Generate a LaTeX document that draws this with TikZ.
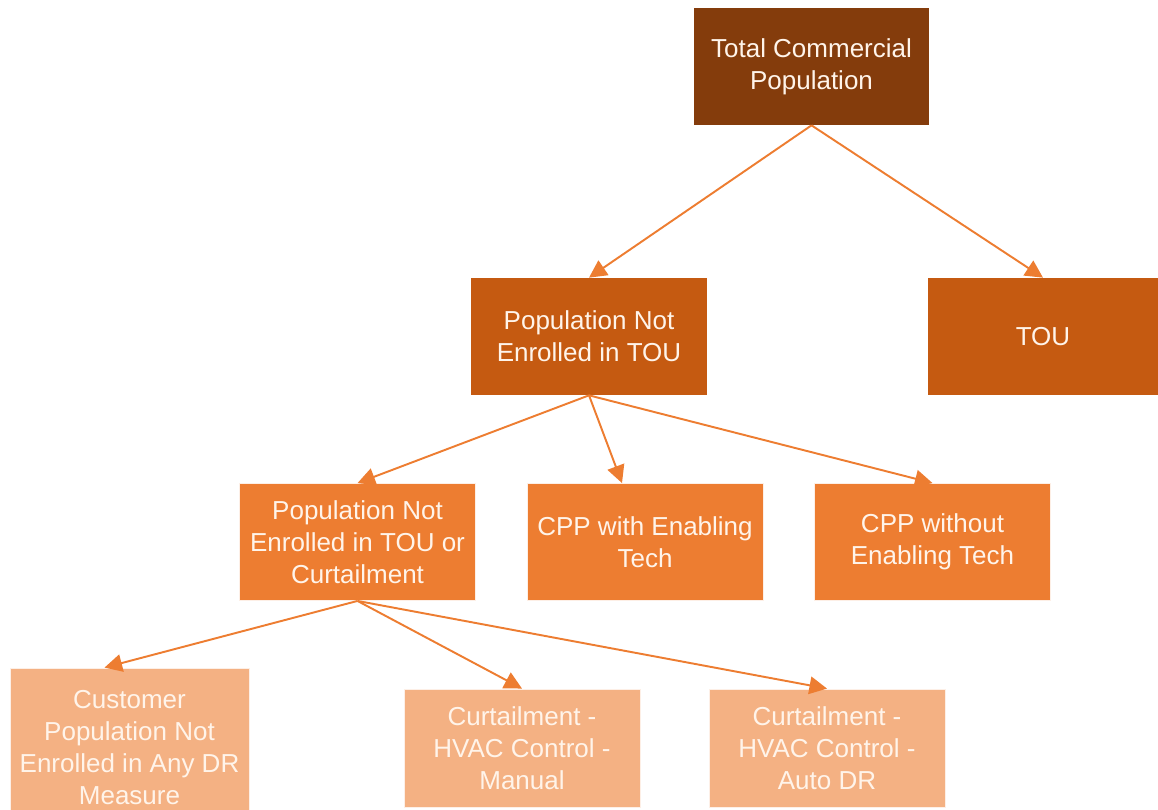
\documentclass[tikz,border=0pt]{standalone}
\usepackage{fontspec}
\setmainfont{Liberation Sans}
\usetikzlibrary{positioning, arrows.meta, calc}

\definecolor{lvlone}{HTML}{843C0C}
\definecolor{lvltwo}{HTML}{C55A11}
\definecolor{lvlthree}{HTML}{ED7D31}
\definecolor{lvlfour}{HTML}{F4B183}
\definecolor{boxtext}{HTML}{FFF4EA}

\tikzset{
  box/.style={rectangle, minimum width=4.72cm, minimum height=2.34cm, inner sep=0pt,
    align=center, text=boxtext, font=\fontsize{14.8}{18.2}\selectfont},
  edged/.style={draw=white!80!lvlfour, line width=0.5pt},
  link/.style={-{Triangle[length=10pt,width=10pt]}, draw=lvlthree, line width=1.1pt},
}

\begin{document}
\begin{tikzpicture}[x=0.02cm, y=-0.02cm]
\useasboundingbox (0,0) rectangle (1158,810);
\clip (0,0) rectangle (1158,810);

% top
\node[box, fill=lvlone] (total) at (811.5, 66.5) {Total Commercial\\Population};

% second row
\node[box, fill=lvltwo] (notou) at (589, 336.5) {Population Not\\Enrolled in TOU};
\node[box, fill=lvltwo, minimum width=4.6cm] (tou) at (1043, 336.5) {TOU};

% third row
\node[box, fill=lvlthree, edged] (curt) at (357.5, 542) {Population Not\\Enrolled in TOU or\\Curtailment};
\node[box, fill=lvlthree, edged] (cppwith) at (645, 542) {CPP with Enabling\\Tech};
\node[box, fill=lvlthree, edged] (cppwithout) at (932.5, 542) {CPP without\\Enabling Tech};

% bottom row
\node[box, fill=lvlfour, edged, minimum width=4.78cm, minimum height=3.2cm] (customer) at (129.5, 748)
  {Customer\\Population Not\\Enrolled in Any DR\\Measure};
\node[box, fill=lvlfour, edged, minimum height=2.36cm] (manual) at (522, 748) {Curtailment -\\HVAC Control -\\Manual};
\node[box, fill=lvlfour, edged, minimum height=2.36cm] (autodr) at (827, 748) {Curtailment -\\HVAC Control -\\Auto DR};

\draw[link] (total.south) -- (notou.north);
\draw[link] (total.south) -- (tou.north);

\draw[link] (notou.south) -- (curt.north);
\draw[link] (notou.south) -- ([xshift=-0.46cm]cppwith.north);
\draw[link] (notou.south) -- (cppwithout.north);

\draw[link] (curt.south) -- ([xshift=-0.5cm]customer.north);
\draw[link] (curt.south) -- (manual.north);
\draw[link] (curt.south) -- (autodr.north);
\end{tikzpicture}
\end{document}
